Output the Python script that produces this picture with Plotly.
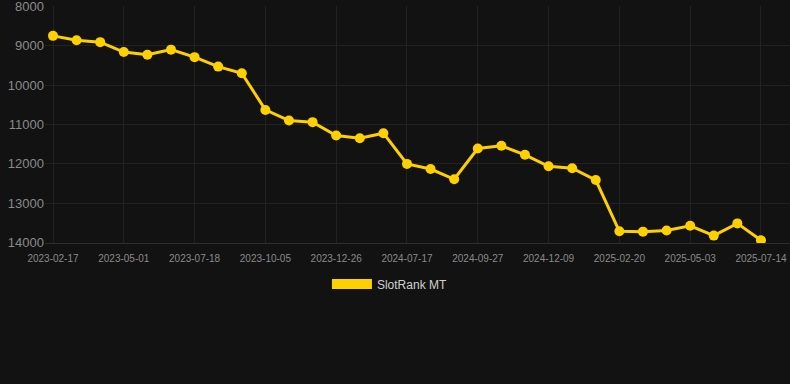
import plotly.graph_objects as go

dates = [
    "2023-02-17", "2023-03-13", "2023-04-06", "2023-05-01", "2023-05-27", "2023-06-22",
    "2023-07-18", "2023-08-13", "2023-09-09", "2023-10-05", "2023-10-31", "2023-11-30",
    "2023-12-26", "2024-03-15", "2024-05-28", "2024-07-17", "2024-08-10", "2024-09-03",
    "2024-09-27", "2024-10-21", "2024-11-15", "2024-12-09", "2025-01-02", "2025-01-27",
    "2025-02-20", "2025-03-16", "2025-04-09", "2025-05-03", "2025-05-27", "2025-06-20",
    "2025-07-14",
]
ranks = [
    8750, 8860, 8910, 9160, 9230, 9100, 9290, 9530, 9700, 10630, 10900, 10940,
    11280, 11350, 11220, 12000, 12130, 12390, 11610, 11540, 11770, 12060, 12110, 12410,
    13710, 13720, 13690, 13570, 13820, 13510, 13940,
]
tick_labels = dates[::3]
y_ticks = [8000, 9000, 10000, 11000, 12000, 13000, 14000]
series_name = "SlotRank MT"

gold = "#FFD000"
grid = "#222222"
bg = "#121212"

fig = go.Figure()
fig.add_trace(go.Scatter(
    x=dates, y=ranks, mode="lines+markers", name=series_name,
    line=dict(color=gold, width=3), marker=dict(color=gold, size=10),
    showlegend=False, hoverinfo="x+y",
))
fig.add_trace(go.Scatter(
    x=[None], y=[None], mode="lines", name=series_name,
    line=dict(color=gold, width=12), showlegend=True,
))

fig.update_layout(
    width=790, height=384,
    paper_bgcolor=bg, plot_bgcolor=bg,
    margin=dict(l=45, r=0, t=6, b=141),
    font=dict(family="Liberation Sans, Arial, sans-serif", color="#8a8a8a"),
    showlegend=True,
    legend=dict(orientation="h", x=0.463, xanchor="center", y=-0.173, yanchor="middle",
                font=dict(size=12, color="#d0d0d0"), itemwidth=40,
                bgcolor="rgba(0,0,0,0)"),
    xaxis=dict(
        type="category", categoryorder="array", categoryarray=dates,
        range=[-0.339, 31.23],
        tickmode="array", tickvals=tick_labels, ticktext=tick_labels,
        tickfont=dict(size=10, color="#8a8a8a"), ticklabelstandoff=6,
        showgrid=True, gridcolor=grid, gridwidth=1,
        showline=True, linecolor="#2e2e2e", linewidth=1,
        ticks="", zeroline=False,
    ),
    yaxis=dict(
        range=[14008, 7992], autorange=False,
        tickmode="array", tickvals=y_ticks, ticktext=[str(v) for v in y_ticks],
        tickfont=dict(size=13, color="#8a8a8a"), ticklabeloverflow="allow",
        showgrid=True, gridcolor=grid, gridwidth=1,
        zeroline=False, ticks="", showline=False,
    ),
)

fig.write_html(
    "out.html",
    config={"displayModeBar": False},
    post_script="document.body.style.margin='0';document.body.style.background='#121212';",
)
